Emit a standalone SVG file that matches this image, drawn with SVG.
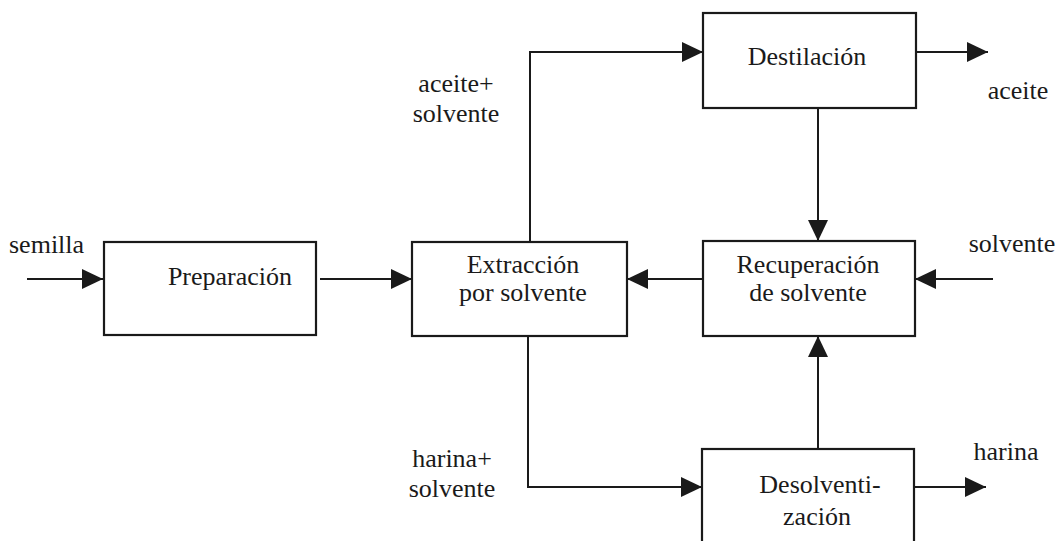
<svg xmlns="http://www.w3.org/2000/svg" width="1063" height="541" viewBox="0 0 1063 541">
<style>
.box{fill:#fff;stroke:#1a1a1a;stroke-width:2.2}
.ln{fill:none;stroke:#1a1a1a;stroke-width:2;marker-end:url(#ah)}
.t{font-size:26px;fill:#1a1a1a}
.c{text-anchor:middle}
</style>
<defs>
<marker id="ah" markerUnits="userSpaceOnUse" markerWidth="22" markerHeight="20" refX="21" refY="10" orient="auto" viewBox="0 0 22 20">
<path d="M0,0 L21,10 L0,20 z" fill="#1a1a1a"/>
</marker>
</defs>
<rect width="1063" height="541" fill="#fff"/>
<g id="connectors">
<line class="ln" x1="27" y1="279" x2="103" y2="279"/>
<line class="ln" x1="320" y1="279" x2="412" y2="279"/>
<polyline class="ln" points="530,242 530,52 703,52"/>
<line class="ln" x1="916" y1="52" x2="988" y2="52"/>
<line class="ln" x1="818" y1="108" x2="818" y2="241"/>
<line class="ln" x1="703" y1="279" x2="627" y2="279"/>
<line class="ln" x1="993" y1="279" x2="915" y2="279"/>
<polyline class="ln" points="528,336 528,487 702,487"/>
<line class="ln" x1="818" y1="449" x2="818" y2="336"/>
<line class="ln" x1="914" y1="487" x2="986" y2="487"/>
</g>
<g id="labels" font-family="'Liberation Serif', 'Times New Roman', 'DejaVu Serif', serif" class="t">
<text x="9" y="253">semilla</text>
<text x="456" y="92" class="c">aceite+</text>
<text x="456" y="122" class="c">solvente</text>
<text x="1018" y="99" class="c">aceite</text>
<text x="1012" y="252" class="c">solvente</text>
<text x="452" y="467" class="c">harina+</text>
<text x="452" y="497" class="c">solvente</text>
<text x="1006" y="460" class="c">harina</text>
</g>
<g id="preparacion" font-family="'Liberation Serif', 'Times New Roman', 'DejaVu Serif', serif" class="t">
<rect class="box" x="104" y="242" width="212" height="93"/>
<text x="230" y="285" class="c">Preparación</text>
</g>
<g id="extraccion" font-family="'Liberation Serif', 'Times New Roman', 'DejaVu Serif', serif" class="t">
<rect class="box" x="412" y="242" width="215" height="94"/>
<text x="523" y="273" class="c">Extracción</text>
<text x="523" y="301" class="c">por solvente</text>
</g>
<g id="destilacion" font-family="'Liberation Serif', 'Times New Roman', 'DejaVu Serif', serif" class="t">
<rect class="box" x="703" y="13" width="213" height="95"/>
<text x="807" y="65" class="c">Destilación</text>
</g>
<g id="recuperacion" font-family="'Liberation Serif', 'Times New Roman', 'DejaVu Serif', serif" class="t">
<rect class="box" x="703" y="241" width="212" height="95"/>
<text x="808" y="273" class="c">Recuperación</text>
<text x="808" y="301" class="c">de solvente</text>
</g>
<g id="desolventizacion" font-family="'Liberation Serif', 'Times New Roman', 'DejaVu Serif', serif" class="t">
<rect class="box" x="702" y="449" width="212" height="100"/>
<text x="820" y="493" class="c">Desolventi-</text>
<text x="817" y="525" class="c">zación</text>
</g>
</svg>
